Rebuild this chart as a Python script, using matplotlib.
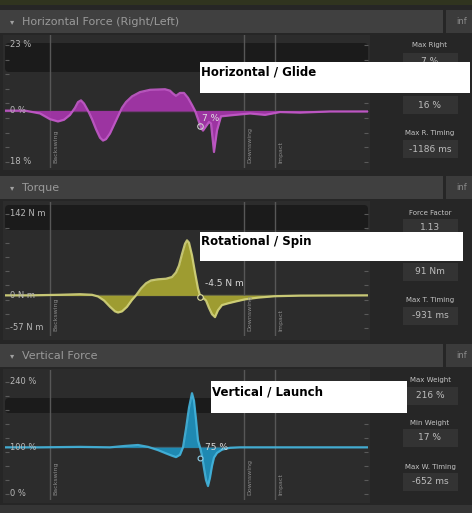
import numpy as np
import matplotlib
matplotlib.use("Agg")
import matplotlib.pyplot as plt
from matplotlib.patches import Rectangle, FancyBboxPatch

W, H = 472, 513

# --- data (time in ms relative to impact) ---
horiz_t = [-2160, -2000, -1880, -1800, -1736, -1688, -1640, -1600, -1576, -1552, -1528, -1496,
           -1464, -1432, -1400, -1376, -1352, -1320, -1288, -1256, -1224, -1192, -1144, -1080,
           -1000, -880, -840, -816, -792, -760, -728, -696, -664, -640, -616, -592,
           -576, -552, -528, -512, -488, -464, -432, -320, -200, -80, 40, 200, 440, 744]
horiz_v = [0, 0, -1, -3, -3.8, -3.2, -1.5, 1, 3, 3.6, 2.5, 0,
           -3, -6.5, -9.5, -10.5, -10, -8, -5, -2, 1, 3, 5, 6.5,
           7.3, 7.5, 7, 6, 5.2, 6.2, 6.2, 4.5, 2, 0, -3, -6,
           -7, -5.5, -4, -4.5, -14.5, -7, -2, -1.5, -1, -1.5, -0.5, -0.7, -0.3, -0.3]

torque_t = [-2160, -1960, -1720, -1560, -1464, -1416, -1368, -1320, -1280, -1256, -1224, -1184,
            -1144, -1112, -1072, -1032, -992, -936, -872, -824, -792, -768, -744, -720,
            -704, -688, -664, -640, -616, -600, -576, -552, -528, -504, -480, -456,
            -424, -376, -320, -240, -136, 0, 200, 744]
torque_v = [0, 0, 1, 2, 1, -2, -9, -20, -28, -30, -28, -20,
            -8, 0, 12, 21, 26, 28, 29, 32, 40, 52, 72, 90,
            96, 92, 70, 40, 12, 0, -4.5, -9, -22, -33, -38, -26,
            -17, -14, -11, -7, -4, -1.5, -0.5, 0]

vert_t = [-2160, -1880, -1560, -1320, -1200, -1096, -1016, -936, -872, -824, -792, -760,
          -736, -712, -688, -664, -648, -632, -616, -600, -584, -568, -552, -536,
          -520, -504, -488, -464, -424, -360, -280, 744]
vert_v = [100, 100, 101, 100, 103, 105, 101, 94, 87, 82, 79, 84,
          100, 140, 185, 216, 200, 160, 115, 100, 82, 55, 30, 17,
          35, 60, 78, 88, 95, 99, 100, 100]

phase_t = [-1800, -248, 0]
phase_names = ["Backswing", "Downswing", "Impact"]

stats_h = [("Max Right", "7 %"), ("Max Left", "16 %"), ("Max R. Timing", "-1186 ms")]
stats_t = [("Force Factor", "1.13"), ("Max Torque", "91 Nm"), ("Max T. Timing", "-931 ms")]
stats_v = [("Max Weight", "216 %"), ("Min Weight", "17 %"), ("Max W. Timing", "-652 ms")]

BG = "#262626"
fig = plt.figure(figsize=(W / 100, H / 100), dpi=100, facecolor=BG)

# background axes in pixel coordinates
bg = fig.add_axes([0, 0, 1, 1])
bg.set_xlim(0, W)
bg.set_ylim(H, 0)
bg.axis("off")


def rect(x0, y0, x1, y1, color, z=1, rounded=False):
    if rounded:
        p = FancyBboxPatch((x0, y0), x1 - x0, y1 - y0, boxstyle="round,pad=0,rounding_size=4",
                           fc=color, ec="none", zorder=z)
    else:
        p = Rectangle((x0, y0), x1 - x0, y1 - y0, fc=color, ec="none", zorder=z)
    bg.add_patch(p)


rect(0, 0, W, 5, "#30341f")
rect(0, 505, W, H, "#353535")


def panel(title, head_y, body_bot, band, stats, stat_ys):
    rect(0, head_y, 443, head_y + 23, "#404040")
    rect(446, head_y, W, head_y + 23, "#3b3b3b")
    bg.text(10, head_y + 12, "\u25be", color="#a0a0a0", fontsize=6, va="center")
    bg.text(22, head_y + 12, title, color="#9a9a9a", fontsize=8, va="center")
    bg.text(456, head_y + 12, "inf", color="#8a8a8a", fontsize=6, va="center")
    rect(3, head_y + 25, 370, body_bot, "#2c2c2c")
    rect(5, band[0], 368, band[1], "#1b1b1b", z=2, rounded=True)
    for (lab, val), (ly, by) in zip(stats, stat_ys):
        bg.text(430, ly, lab, color="#c4c4c4", fontsize=5, ha="center", va="center", zorder=3)
        rect(403, by, 458, by + 18, "#333333", z=2)
        bg.text(430, by + 9, val, color="#bdbdbd", fontsize=6.5, ha="center", va="center", zorder=3)


panel("Horizontal Force (Right/Left)", 10, 170, (43, 72), stats_h,
      [(45, 53), (88, 96), (133, 140)])
panel("Torque", 176, 340, (205, 230), stats_t,
      [(213, 219), (256, 263), (300, 307)])
panel("Vertical Force", 344, 503, (398, 413), stats_v,
      [(380, 387), (423, 429), (467, 473)])

X0, X1 = 5, 368
T0, T1 = -2160, 744


def data_axes(py_top, py_bot, ref_top_px, ref_top_val, ref_bot_px, ref_bot_val):
    ax = fig.add_axes([X0 / W, 1 - py_bot / H, (X1 - X0) / W, (py_bot - py_top) / H])
    scale = (ref_bot_px - ref_top_px) / (ref_top_val - ref_bot_val)
    ax.set_ylim(ref_bot_val - (py_bot - ref_bot_px) / scale,
                ref_top_val + (ref_top_px - py_top) / scale)
    ax.set_xlim(T0, T1)
    ax.patch.set_alpha(0)
    for s in ax.spines.values():
        s.set_visible(False)
    ax.set_xticks([])
    ax.set_yticks(np.linspace(ref_bot_val, ref_top_val, 9))
    ax.tick_params(axis="y", direction="in", length=3, width=0.8, color="#5a5a5a",
                   labelleft=False, right=True)
    return ax


def decorate(ax, labels, base, base_color):
    for val, txt in labels:
        ax.text(T0 + 40, val, txt, color="#b8b8b8", fontsize=6, va="center", zorder=6)
    ax.axhline(base, color=base_color, lw=1, alpha=0.6, zorder=1)
    for t, name in zip(phase_t, phase_names):
        ax.axvline(t, color="#575757", lw=1, zorder=2)
        ax.text(t + 25, ax.get_ylim()[0] + 0.04 * np.ptp(ax.get_ylim()), name, rotation=90,
                color="#8c8c8c", fontsize=4.5, va="bottom", ha="left", zorder=6)


# Horizontal
ax1 = data_axes(35, 168, 45, 23, 162, -18)
decorate(ax1, [(23, "23 %"), (0, "0 %"), (-18, "18 %")], 0, "#9b3fa0")
ht, hv = np.array(horiz_t), np.array(horiz_v)
ax1.fill_between(ht, 0, hv, color="#a335a8", alpha=0.95, lw=0, zorder=3)
ax1.plot(ht, hv, color="#c25ac8", lw=1.6, alpha=0.9, zorder=4)
ax1.plot(-600, -5.5, "o", ms=4, mfc="none", mec="#d0d0d0", mew=0.8, zorder=5)
ax1.text(-580, -2.8, "7 %", color="#e0e0e0", fontsize=6.5, va="center", zorder=6)

# Torque
ax2 = data_axes(202, 336, 214, 142, 328, -57)
decorate(ax2, [(142, "142 N m"), (0, "0 N m"), (-57, "-57 N m")], 0, "#8a8a55")
tt, tv = np.array(torque_t), np.array(torque_v)
ax2.fill_between(tt, 0, tv, color="#a5a332", alpha=0.95, lw=0, zorder=3)
ax2.plot(tt, tv, color="#d3d37c", lw=1.6, alpha=0.9, zorder=4)
ax2.plot(-600, -3, "o", ms=4, mfc="#2c2c2c", mec="#e0e0a0", mew=0.8, zorder=5)
ax2.text(-560, 20, "-4.5 N m", color="#d8d8d8", fontsize=6.5, va="center", zorder=6)

# Vertical
ax3 = data_axes(370, 500, 382, 240, 494, 0)
decorate(ax3, [(240, "240 %"), (100, "100 %"), (0, "0 %")], 100, "#4d7f96")
vt, vv = np.array(vert_t), np.array(vert_v)
ax3.fill_between(vt, 100, vv, color="#1f8fba", alpha=0.95, lw=0, zorder=3)
ax3.plot(vt, vv, color="#44b4dc", lw=1.6, alpha=0.9, zorder=4)
ax3.plot(-600, 78, "o", ms=3.5, mfc="#2c2c2c", mec="#8fd0ea", mew=0.8, zorder=5)
ax3.text(-560, 100, "75 %", color="#d8d8d8", fontsize=6.5, va="center", zorder=6)

# white annotation boxes on top of everything
top = fig.add_axes([0, 0, 1, 1])
top.set_xlim(0, W)
top.set_ylim(H, 0)
top.axis("off")
top.patch.set_alpha(0)
notes = [("Horizontal / Glide", 200, 62, 470, 93, 72),
         ("Rotational / Spin", 200, 232, 463, 261, 242),
         ("Vertical / Launch", 211, 381, 407, 413, 392)]
for txt, x0, y0, x1, y1, ty in notes:
    top.add_patch(Rectangle((x0, y0), x1 - x0, y1 - y0, fc="white", ec="none"))
    top.text(x0 + 1, ty, txt, color="black", fontsize=8.5, fontweight="bold", va="center")

fig.savefig("out.png", dpi=100, facecolor=BG)
